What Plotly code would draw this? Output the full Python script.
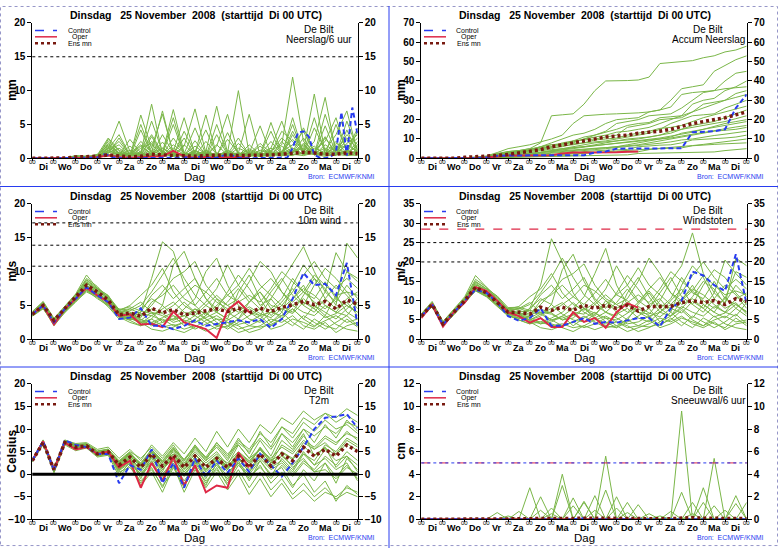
import plotly.graph_objects as go

W, H = 778, 554

# tijdas in uren vanaf starttijd (Di 25 nov 2008 00 UTC)
uren = list(range(0, 361, 12))
uren6 = list(range(0, 361, 6))
uren_oper = list(range(0, 241, 12))
dag_grenzen = list(range(0, 361, 24))
dag_midden = list(range(12, 360, 24))
dagnamen = ["Di", "Wo", "Do", "Vr", "Za", "Zo", "Ma", "Di", "Wo", "Do", "Vr", "Za", "Zo", "Ma", "Di"]

# ---- Neerslag per 6 uur (mm) ----
neerslag_leden = [
    [0,0,0,0,0.3,0.2,0.5,3.0,1.2,0.4,0.8,2.5,1.0,0.3,0.5,1.8,0.6,0.2,0.4,1.5,0.8,0.3,1.2,2.0,12.0,2.5,0.8,1.5,0.6,2.0,1.0],
    [0,0,0,0,0.2,0.1,0.3,1.5,5.5,1.0,0.5,1.2,0.4,2.0,0.8,0.3,1.0,7.7,0.8,0.5,1.4,0.6,0.3,1.0,2.8,1.2,9.5,0.8,1.5,3.0,1.5],
    [0,0,0,0,0.1,0.3,0.2,2.2,0.6,0.2,6.4,1.5,0.6,0.4,1.8,7.3,0.8,0.3,0.6,0.4,2.0,0.5,5.3,0.8,1.2,0.6,2.5,9.0,0.8,1.0,4.5],
    [0,0,0,0,0.3,0.2,0.4,1.0,2.5,0.5,0.8,8.0,0.6,0.5,0.3,1.2,0.4,1.8,6.5,0.6,0.3,0.8,1.5,5.5,0.8,2.2,0.5,1.2,3.5,7.0,0.8],
    [0,0,0,0,0.2,0.1,0.2,2.8,1.0,0.3,1.5,2.2,0.8,7.2,0.8,0.5,1.2,0.4,0.8,10.0,0.6,0.4,0.8,0.3,3.5,0.8,1.8,0.5,2.2,1.5,3.0],
    [0,0,0,0,0.4,0.2,0.6,1.8,0.8,0.6,2.0,0.5,3.5,0.8,0.4,2.6,0.5,0.3,1.2,0.5,0.8,4.8,0.6,1.0,2.0,4.0,0.7,0.5,1.8,0.6,2.5],
    [0,0,0,0,0.1,0.2,0.3,0.8,1.5,0.4,0.6,5.5,1.0,0.3,0.8,0.4,2.5,0.6,0.3,0.8,0.4,0.6,1.0,3.0,1.5,0.6,4.5,1.2,0.5,5.5,1.2],
    [0,0,0,0,0.2,0.3,0.2,1.2,0.5,2.8,0.8,0.4,1.5,0.5,4.0,0.8,6.4,0.5,0.8,0.3,1.0,0.5,2.5,0.6,0.4,1.8,0.6,3.0,0.8,2.8,0.5],
    [0,0,0,0,0.3,0.1,0.4,2.0,0.8,0.2,4.2,0.6,0.3,1.5,0.6,0.8,0.3,0.5,0.4,2.2,0.6,1.8,0.5,0.8,5.0,0.5,1.2,2.5,6.0,0.8,1.8],
    [0,0,0,0,0.1,0.0,0.2,0.6,0.3,0.8,0.4,3.2,0.6,5.0,0.4,0.3,0.5,0.8,0.3,0.5,0.3,0.4,0.6,0.8,1.5,0.6,0.8,0.5,1.2,0.5,0.8],
    [0,0,0,0,0.2,0.2,0.3,1.4,3.5,0.5,0.3,0.8,7.0,0.6,0.5,0.8,0.3,3.5,0.5,0.6,0.8,0.3,0.5,0.6,0.8,3.0,0.5,0.8,0.4,4.2,0.6],
    [0,0,0,0,0.1,0.1,0.2,0.5,0.8,0.3,0.5,0.4,0.6,0.3,2.0,0.5,0.4,0.6,0.5,0.4,0.6,0.8,0.3,2.5,0.6,0.4,0.8,0.6,0.5,0.8,0.4],
    [0,0,0,0,0.2,0.3,0.1,1.6,0.6,1.8,0.6,0.5,2.4,0.4,0.6,0.5,0.8,0.5,2.8,0.8,0.5,0.6,0.8,0.5,4.0,1.0,0.6,4.8,0.8,0.6,2.0],
    [0,0,0,0,0.1,0.2,0.2,0.4,0.5,0.6,0.3,0.6,0.5,0.8,0.5,0.6,0.3,0.4,0.6,0.3,0.5,0.3,0.5,0.4,0.5,0.8,0.5,0.3,0.6,0.4,0.5],
    [0,0,0,0,0.2,0.1,0.3,2.5,0.7,0.3,1.0,3.5,0.8,6.0,0.5,1.0,0.6,2.0,0.5,0.8,6.5,0.4,1.0,0.6,1.0,1.5,0.5,2.0,1.0,3.5,2.0],
    [0,0,0,0,0.3,0.2,0.2,1.2,2.0,0.4,5.0,0.8,1.5,0.6,3.0,0.5,1.0,0.4,3.8,0.6,0.4,1.2,0.8,4.0,2.5,0.8,6.0,0.7,0.6,2.2,3.5],
    [0,0,0,0,0.1,0.3,0.4,0.9,0.5,1.2,0.6,2.0,0.5,3.0,0.7,4.5,0.6,0.5,1.0,0.4,0.6,2.2,0.8,0.5,6.0,0.6,0.8,3.2,0.5,1.2,0.6],
    [0,0,0,0,0.2,0.1,0.5,1.6,0.4,0.8,0.5,1.6,6.5,0.8,0.4,1.2,0.3,5.0,0.6,0.8,0.5,0.3,1.5,0.6,0.8,4.5,0.9,0.6,5.0,1.0,0.8],
    [0,0,0,0,0.4,0.3,0.2,0.7,3.0,0.5,1.8,0.6,0.4,1.0,6.0,0.6,0.8,0.5,0.6,3.0,0.5,0.6,4.0,0.5,0.7,2.0,0.6,6.5,1.5,0.6,1.2],
    [0,0,0,0,0.1,0.2,0.3,1.1,0.6,0.4,2.5,1.0,0.6,0.8,0.5,0.9,4.2,0.6,0.4,0.5,1.2,0.5,0.6,1.8,0.5,0.7,1.5,0.8,2.5,0.7,4.0],
]
neerslag_control = [0,0,0,0,0,0,0,0,0,0,0,0,
                    0.1,0.6,0.5,0.1,
                    0,0,0,0,0,0,0,0,0,0,0,0.1,0.2,0,0,
                    0.3,0.1,0,0.1,0.3,0.6,0.4,0.1,0,0,0,0,0,0,0,0,0.1,1.5,3.8,4.0,
                    3.2,0.5,0.1,0,0.2,1.0,6.8,0.4,7.5,3.5]
neerslag_oper = [0,0,0,0,0.1,0.1,0.2,0.4,0.2,0.1,0.2,0.3,0.3,1.1,0.3,0.1,0.2,0.1,0.2,0.2,0.1]
neerslag_gem = [0,0,0,0.05,0.2,0.2,0.3,0.5,0.4,0.2,0.3,0.6,0.5,0.4,0.3,0.3,0.4,0.5,0.5,0.4,0.4,0.4,0.5,0.6,0.8,0.9,0.8,0.6,0.6,0.8,0.7]
neerslag_drempels = [15]

# ---- Geaccumuleerde neerslag (mm) ----
accum_leden = [
    [0,0,0,0,0.3,0.6,1.0,2.5,3.5,4.0,5.0,8.0,22.0,22.5,23.0,28.0,35.0,40.0,40.0,40.2,40.5,42.0,49.0,49.5,50.0,50.5,52.0,53.0,55.0,56.0,58.0],
    [0,0,0,0,0.2,0.4,0.8,1.5,2.5,3.0,4.5,6.0,8.0,10.0,12.0,13.0,15.0,18.0,20.0,20.5,21.0,24.0,25.0,30.0,36.0,37.0,38.0,45.0,48.0,51.0,53.0],
    [0,0,0,0,0.3,0.5,1.2,3.0,5.0,6.0,7.0,8.5,10.0,12.0,18.0,22.0,22.5,22.8,23.0,23.2,23.5,24.0,25.0,26.5,33.0,34.0,34.5,35.0,40.0,44.0,45.0],
    [0,0,0,0,0.2,0.4,0.6,2.0,3.0,3.5,4.0,5.0,6.0,7.0,9.0,11.0,12.0,13.5,15.0,17.0,18.0,18.5,21.0,21.5,22.0,28.0,30.0,31.0,35.0,37.0,40.0],
    [0,0,0,0,0.1,0.3,0.5,1.5,2.0,2.5,4.0,6.0,7.0,7.5,8.0,10.0,12.0,14.0,18.0,19.0,20.0,22.0,22.5,23.0,26.0,30.0,34.0,35.0,36.0,36.5,37.0],
    [0,0,0,0,0.2,0.3,0.8,2.0,3.5,4.0,5.0,5.5,6.0,8.0,9.0,9.5,10.0,11.0,12.0,16.0,17.0,18.0,20.0,20.5,21.0,24.0,28.0,29.0,30.0,33.5,35.0],
    [0,0,0,0,0.3,0.5,0.7,1.8,3.0,3.5,4.0,5.0,5.5,6.0,7.5,8.0,8.5,9.0,10.0,11.0,12.0,13.0,15.0,18.0,20.0,22.0,22.5,23.0,26.0,28.0,30.0],
    [0,0,0,0,0.2,0.4,0.6,1.2,2.0,2.5,3.0,4.0,4.5,5.0,5.5,6.0,7.0,8.0,9.0,10.0,10.5,11.0,12.0,13.0,15.0,17.0,18.0,19.0,21.0,23.0,25.0],
    [0,0,0,0,0.1,0.2,0.4,1.0,1.5,2.0,2.5,3.0,4.0,5.0,6.0,7.0,8.0,8.5,9.0,9.5,10.0,11.0,12.0,14.0,15.0,16.0,17.0,18.0,19.0,20.5,22.0],
    [0,0,0,0,0.2,0.3,0.5,0.8,1.2,1.5,2.0,2.5,3.0,3.5,4.0,4.5,5.0,5.5,6.0,7.0,8.0,9.0,10.0,11.0,13.0,14.0,15.0,16.0,17.0,18.0,19.0],
    [0,0,0,0,0.1,0.2,0.3,0.6,1.0,1.5,2.0,3.0,3.5,4.0,4.5,5.0,5.2,5.5,6.0,6.5,7.0,8.0,9.0,10.0,11.0,12.0,13.0,14.0,14.5,15.0,16.0],
    [0,0,0,0,0.1,0.2,0.3,0.5,0.8,1.0,1.2,1.5,2.0,2.2,2.4,3.5,4.0,4.2,4.4,4.6,6.0,6.5,6.8,7.0,8.0,9.5,9.8,10.0,10.5,11.0,12.0],
    [0,0,0,0,0.1,0.2,0.3,0.4,0.6,0.8,1.0,1.2,1.3,1.4,1.5,2.8,3.0,3.1,3.2,3.3,3.4,4.5,5.0,5.2,5.4,6.5,7.0,7.2,7.5,7.8,8.0],
    [0,0,0,0,0.1,0.1,0.2,0.3,0.5,0.6,0.8,0.9,1.0,1.1,1.2,1.3,1.4,1.5,1.6,1.8,2.5,2.6,2.7,2.8,3.0,3.1,3.2,3.3,4.0,4.6,5.0],
    [0,0,0,0,0.2,0.5,0.9,2.2,3.2,3.8,4.5,6.0,7.0,7.5,8.5,10.0,11.0,12.0,13.5,14.0,15.0,16.0,18.0,20.0,22.0,24.0,26.0,28.0,30.0,31.5,33.0],
    [0,0,0,0,0.3,0.4,0.7,1.6,2.5,3.0,3.5,4.5,5.0,6.5,7.0,8.0,9.5,10.0,10.5,12.0,13.0,14.0,15.5,16.0,17.0,19.0,21.0,22.5,24.0,25.5,27.0],
    [0,0,0,0,0.1,0.2,0.4,0.8,1.4,1.8,2.3,3.0,3.6,4.2,5.0,5.8,6.5,7.2,7.8,8.5,9.0,9.8,10.5,11.5,12.5,13.5,15.0,16.5,18.0,19.0,20.0],
    [0,0,0,0,0.2,0.3,0.6,1.0,1.6,2.0,2.6,3.2,3.8,4.5,5.5,6.0,6.5,7.0,7.5,8.0,8.8,9.5,10.0,10.5,11.5,12.5,13.5,14.5,15.5,16.2,17.0],
    [0,0,0,0,0.1,0.2,0.3,0.7,1.0,1.3,1.8,2.2,2.6,3.0,3.5,4.0,4.5,5.0,5.5,6.0,6.5,7.0,7.8,8.5,9.5,10.0,11.0,11.8,12.5,13.2,14.0],
    [0,0,0,0,0.1,0.1,0.2,0.4,0.6,0.9,1.2,1.5,1.8,2.0,2.3,2.6,3.0,3.3,3.6,4.0,4.3,4.8,5.2,5.6,6.0,6.6,7.2,7.8,8.5,9.2,10.0],
]
accum_control = [0,0,0,0,0.1,0.2,0.4,1.3,1.5,1.5,1.5,1.5,1.5,1.5,1.5,1.6,3.0,3.5,5.0,5.0,5.0,5.0,5.1,5.1,5.2,13.5,13.6,14.0,15.0,26.0,33.0]
accum_oper = [0,0,0,0,0.1,0.2,0.4,1.0,1.5,1.5,1.5,1.5,1.6,2.5,3.0,3.0,3.0,3.1,3.2,3.4,3.5]
accum_gem = [0,0,0,0,0.5,0.7,1.0,1.5,2.0,2.8,3.5,4.5,6.0,7.0,8.0,9.0,10.0,11.0,11.5,12.0,13.0,13.5,14.0,15.0,16.5,18.0,19.0,20.0,21.0,22.5,24.0]

# ---- 10m wind (m/s) ----
wind_leden = [
    [3.5,4.8,2.2,4.2,5.8,7.5,6.8,5.2,3.2,3.0,4.0,9.0,14.4,13.0,8.0,5.0,3.5,6.0,4.0,3.0,5.5,7.0,4.5,3.0,6.0,8.0,5.0,3.5,6.5,4.0,3.0],
    [4.0,5.5,3.0,4.8,6.5,8.5,7.2,6.0,4.0,3.5,2.5,3.0,5.0,11.0,13.0,9.0,6.0,4.0,3.0,7.0,9.5,6.0,3.5,5.0,4.0,6.5,9.0,7.5,5.0,14.2,12.0],
    [3.8,5.2,2.5,4.6,6.0,7.8,6.5,5.5,3.8,4.5,5.5,4.0,2.5,3.0,4.5,6.0,10.0,12.0,8.0,5.0,4.0,3.5,6.0,8.5,11.0,13.7,10.0,7.0,5.5,8.0,6.0],
    [3.6,4.6,2.0,4.0,5.5,7.2,6.0,5.0,3.4,2.8,2.0,2.5,1.8,2.2,1.5,2.0,1.2,1.8,2.5,1.5,2.0,2.8,1.5,2.0,3.0,2.5,1.8,3.5,2.2,1.5,1.2],
    [3.9,5.0,2.7,4.4,6.3,8.2,7.5,6.2,4.2,5.0,6.5,8.0,10.5,7.0,5.0,4.0,5.5,7.5,11.0,8.0,6.0,4.5,7.0,9.0,6.5,5.0,8.0,10.5,9.0,7.0,5.0],
    [3.7,5.3,2.9,4.7,6.6,9.0,7.8,6.0,3.5,3.0,2.8,4.0,3.5,2.5,3.0,4.5,3.0,2.0,3.5,4.5,3.0,2.5,4.0,5.5,7.5,5.0,4.0,6.0,4.5,5.5,3.5],
    [3.4,4.5,2.3,4.0,5.6,7.0,6.2,4.8,3.0,3.2,2.5,1.5,1.2,1.8,2.5,1.5,2.2,3.0,2.0,1.0,1.5,2.0,3.0,2.5,3.5,2.0,1.5,2.5,1.0,2.0,2.5],
    [3.8,5.1,2.6,4.5,6.2,8.0,7.0,5.5,4.5,4.0,3.5,5.0,7.0,9.0,10.0,11.5,8.0,6.0,5.0,6.0,8.5,11.5,10.0,7.0,5.0,6.0,4.5,7.0,12.8,10.0,8.5],
    [3.6,4.9,2.4,4.3,5.9,7.6,6.8,5.8,3.8,3.5,3.0,2.0,2.5,3.5,2.0,3.0,4.0,2.5,1.5,2.5,3.5,4.5,2.5,3.5,4.5,3.0,5.0,4.0,3.0,4.5,6.0],
    [4.1,5.6,3.1,4.9,6.7,9.5,7.5,6.5,4.0,3.8,4.0,6.5,8.0,6.0,7.5,9.0,6.0,4.5,7.0,9.5,7.5,5.0,6.0,4.0,8.0,11.0,9.0,6.0,8.0,6.5,4.5],
    [3.5,4.7,2.1,4.1,5.7,7.3,6.4,5.0,3.3,2.5,2.0,3.0,2.0,1.5,1.0,1.8,2.8,3.5,2.5,2.0,1.0,1.5,2.5,4.0,2.5,1.5,3.0,2.0,1.5,3.0,1.8],
    [3.9,5.2,2.8,4.6,6.4,8.4,7.2,6.3,4.3,4.5,3.8,3.5,4.5,5.5,4.0,3.5,5.0,6.5,5.0,4.0,5.5,7.0,5.0,4.5,6.0,7.5,6.5,5.0,4.0,6.0,7.0],
    [3.7,5.0,2.6,4.4,6.1,7.9,6.9,5.6,3.7,3.3,2.8,2.5,3.2,4.0,5.5,4.0,3.0,2.0,1.8,3.0,4.5,3.5,2.0,3.0,2.0,3.5,2.5,1.5,2.5,3.5,2.0],
    [3.6,4.8,2.5,4.3,6.0,7.7,6.7,5.4,3.6,3.0,4.5,6.0,5.0,3.5,2.8,2.5,3.5,5.0,6.5,5.5,4.0,3.0,4.5,6.0,9.0,7.0,6.0,8.5,6.0,10.0,9.0],
    [3.7,5.1,2.7,4.6,6.3,8.3,7.1,5.9,3.9,3.6,3.2,5.5,6.5,8.0,6.0,5.0,7.0,9.0,6.5,8.0,10.5,8.0,6.5,5.0,7.0,9.5,11.5,9.0,7.5,9.0,7.5],
    [3.5,4.7,2.4,4.2,5.8,7.4,6.6,5.3,3.5,3.4,2.6,2.2,3.0,2.0,2.5,3.5,2.5,1.5,2.0,3.0,2.0,1.8,2.2,3.0,4.5,3.0,2.0,2.8,3.5,2.5,3.0],
    [3.8,5.2,2.9,4.7,6.5,8.7,7.4,6.1,4.1,4.2,5.0,7.0,9.5,12.0,9.0,6.5,5.0,4.0,5.5,7.5,5.5,7.5,9.0,7.0,5.5,7.0,5.5,4.5,6.0,5.0,4.0],
    [3.6,4.9,2.6,4.4,6.1,7.9,6.8,5.6,3.6,3.1,2.4,3.5,2.8,3.0,3.5,2.5,3.2,4.0,3.0,2.2,2.6,3.5,4.0,3.5,5.0,4.0,3.5,5.0,4.0,3.5,5.5],
    [3.9,5.3,3.0,4.8,6.6,8.8,7.6,6.4,4.4,4.8,4.2,3.8,4.0,5.0,6.5,8.0,7.0,5.5,4.5,5.5,6.5,5.5,7.5,10.0,8.5,7.0,9.5,8.0,6.5,7.0,6.5],
    [3.5,4.6,2.3,4.1,5.7,7.2,6.3,5.1,3.3,2.9,3.5,4.5,3.8,2.8,3.5,4.5,3.8,3.0,2.8,3.8,4.8,3.8,3.2,4.5,3.8,5.5,4.5,3.2,3.8,5.0,4.0],
]
wind_control = [3.7,5.0,2.5,4.5,6.0,7.7,6.5,5.5,3.0,3.2,4.6,2.0,2.0,1.5,2.0,2.8,2.0,2.3,2.5,2.8,2.5,3.0,1.7,3.0,6.0,9.8,8.0,8.2,6.5,11.3,2.0]
wind_oper = [3.7,5.0,2.2,4.5,6.0,7.6,6.5,5.5,3.5,3.7,2.2,2.3,1.8,4.1,2.5,2.0,1.5,0.2,4.3,5.6,4.0]
wind_gem = [3.7,5.0,2.8,4.5,6.2,8.0,7.0,5.8,3.6,3.9,3.4,4.6,3.9,4.4,3.6,3.9,4.2,4.5,4.1,4.6,3.9,4.6,4.1,4.7,5.1,5.6,5.1,5.6,4.5,5.8,5.2]
wind_drempels = [10.8, 13.9, 17.2]

# ---- Windstoten (m/s) ----
stoten_leden = [
    [5.5,8.5,3.5,6.5,9.5,13.0,11.5,9.0,6.5,6.0,8.0,14.0,26.0,20.0,12.0,8.0,6.0,10.0,7.0,5.0,9.0,12.0,8.0,6.0,10.0,14.0,9.0,7.0,11.0,8.0,6.0],
    [6.5,9.5,4.5,7.5,10.5,14.5,12.5,10.0,7.5,6.5,5.0,6.0,9.0,18.0,22.0,15.0,10.0,7.0,6.0,12.0,16.0,11.0,7.0,9.0,8.0,11.0,15.0,13.0,9.0,21.0,19.0],
    [6.0,9.2,4.2,7.2,10.2,13.8,12.0,9.8,7.2,8.0,9.5,7.0,5.0,6.0,8.0,11.0,17.0,23.5,14.0,9.0,7.0,6.5,10.0,15.0,19.0,27.5,17.0,12.0,9.5,14.0,11.0],
    [5.8,8.7,3.7,6.8,9.7,12.8,11.2,8.8,6.2,5.0,4.0,4.5,3.5,4.0,3.0,3.5,2.5,3.5,4.5,3.0,3.5,5.0,3.0,4.0,5.5,4.5,3.5,6.0,4.0,3.0,2.5],
    [6.2,9.1,4.1,7.1,10.3,14.0,13.0,10.5,7.8,8.5,11.0,13.0,17.0,12.0,9.0,7.5,9.5,13.0,19.0,14.0,10.0,8.0,12.0,16.0,11.0,9.0,14.0,18.0,16.0,12.0,9.0],
    [6.1,9.3,4.3,7.3,10.6,15.5,13.5,10.3,7.0,6.0,5.5,7.0,6.5,5.0,5.5,8.0,5.5,4.0,6.5,8.0,5.5,4.5,7.0,10.0,13.0,9.0,7.0,10.5,8.0,9.5,6.5],
    [5.6,8.4,3.6,6.6,9.4,12.5,11.0,8.5,6.0,5.5,4.5,3.0,2.5,3.5,4.5,3.0,4.0,5.5,3.5,2.0,3.0,4.0,5.5,4.5,6.0,4.0,3.0,4.5,2.5,4.0,4.5],
    [6.2,9.0,4.0,7.0,10.0,13.5,12.2,9.5,8.0,7.5,6.5,9.0,12.0,15.5,17.0,19.5,14.0,10.5,9.0,10.5,15.0,21.0,17.0,12.0,9.0,10.5,8.0,12.0,20.5,17.0,14.0],
    [5.9,8.8,3.9,6.9,9.8,13.2,11.8,9.6,7.0,6.5,5.8,4.0,4.5,6.0,3.5,5.5,7.0,4.5,3.0,4.5,6.0,8.0,4.5,6.0,8.0,5.5,9.0,7.0,5.5,8.0,10.5],
    [6.6,9.8,4.6,7.8,11.0,16.5,13.5,11.0,7.5,7.0,7.5,11.5,14.0,10.5,13.0,16.0,10.5,8.0,12.0,16.5,13.0,9.0,10.5,7.0,14.0,19.0,16.0,10.5,14.0,11.5,8.0],
    [5.7,8.6,3.4,6.4,9.3,12.6,11.3,8.7,6.3,5.0,4.0,5.5,4.0,3.0,2.0,3.5,5.0,6.0,4.5,3.5,2.0,3.0,4.5,7.0,4.5,3.0,5.5,4.0,3.0,5.5,3.5],
    [6.3,9.4,4.4,7.4,10.4,14.2,12.6,10.2,7.6,8.0,7.0,6.5,8.0,9.5,7.0,6.5,9.0,11.5,9.0,7.0,9.5,12.5,9.0,8.0,10.5,13.0,11.5,9.0,7.0,10.5,12.0],
    [6.0,8.9,4.0,7.0,9.9,13.4,11.9,9.4,6.8,6.0,5.0,4.5,5.5,7.0,9.5,7.0,5.5,3.5,3.0,5.5,8.0,6.0,3.5,5.5,3.5,6.0,4.5,3.0,4.5,6.5,4.0],
    [5.9,8.8,3.8,6.9,9.9,13.3,12.0,9.3,6.6,5.5,8.0,10.5,9.0,6.5,5.0,4.5,6.5,9.0,11.5,10.0,7.0,5.5,8.0,10.5,16.0,12.0,10.5,15.0,10.5,17.5,16.0],
    [6.0,9.1,4.2,7.1,10.1,13.6,12.1,9.7,7.3,6.8,6.2,10.0,11.5,14.0,11.0,9.0,12.0,15.5,11.5,14.0,18.5,14.0,11.5,9.0,12.0,16.5,20.0,16.0,13.0,15.5,13.0],
    [5.8,8.6,3.7,6.7,9.6,12.9,11.4,9.0,6.4,6.0,4.8,4.0,5.0,3.5,4.5,6.0,4.5,3.0,3.5,5.0,3.5,3.2,4.0,5.0,7.5,5.0,3.5,5.0,6.0,4.5,5.0],
    [6.2,9.3,4.4,7.4,10.5,14.8,13.0,10.8,7.9,7.8,9.0,12.0,16.0,21.0,16.0,11.5,9.0,7.0,9.5,13.0,9.5,13.0,16.0,12.0,10.0,12.5,10.0,8.0,10.5,9.0,7.0],
    [5.9,8.8,3.9,6.9,9.9,13.3,11.9,9.5,6.8,6.2,5.0,6.5,5.0,5.5,6.5,4.5,5.5,7.0,5.5,4.0,4.5,6.0,7.0,6.0,8.5,7.0,6.0,8.5,7.0,6.0,9.5],
    [6.3,9.5,4.5,7.5,10.7,15.0,13.2,11.2,8.2,8.3,7.5,6.8,7.0,9.0,11.0,14.0,12.5,10.0,8.0,9.5,11.5,9.5,13.0,17.5,15.0,12.5,16.5,14.0,11.5,12.5,11.5],
    [5.7,8.5,3.5,6.5,9.4,12.7,11.1,8.9,6.1,5.4,6.0,7.8,6.8,5.0,6.2,8.0,6.8,5.5,5.0,6.8,8.5,6.8,5.8,8.0,6.8,9.8,8.0,5.8,6.8,9.0,7.2],
]
stoten_control = [6.0,9.0,3.8,7.0,10.0,12.8,12.0,9.5,6.0,4.8,5.5,8.0,3.5,3.5,4.5,5.5,4.0,4.5,4.3,5.0,5.5,5.5,3.3,8.0,10.0,17.5,16.5,14.0,12.5,22.0,9.0]
stoten_oper = [5.5,9.0,3.3,7.0,9.5,13.5,12.5,10.0,7.0,6.0,4.3,5.5,3.2,3.2,7.0,4.5,5.5,3.0,7.0,9.3,8.2]
stoten_gem = [6.0,9.0,4.0,7.0,10.0,13.5,12.0,9.5,7.0,7.0,6.5,8.3,7.5,8.3,7.5,8.8,8.0,8.8,8.0,8.8,7.3,8.5,8.5,8.5,9.5,10.0,9.5,10.0,9.0,10.5,9.8]
stoten_drempels = [20, 25]
stoten_alarm = [28.5]

# ---- Temperatuur 2m (Celsius) ----
t2m_leden = [
    [3.2,7.5,1.2,7.2,6.2,6.5,4.8,5.2,2.2,4.0,1.8,4.8,2.0,4.5,1.8,4.3,1.8,3.8,1.8,4.2,1.8,4.8,2.0,4.8,3.2,6.2,4.2,5.8,4.2,6.8,5.2],
    [2.8,6.8,0.5,6.8,5.8,6.0,4.0,4.5,1.0,3.0,0.0,3.0,-1.0,2.5,-1.5,2.0,-2.0,1.5,-2.5,1.0,-3.0,0.5,-3.5,-1.0,-4.5,-2.0,-5.0,-3.0,-5.5,-4.0,-5.0],
    [3.1,7.2,1.5,7.5,6.8,7.0,5.5,6.0,3.5,5.5,3.0,6.5,4.0,7.0,4.5,8.0,5.0,9.5,6.0,10.0,7.0,11.0,9.0,12.5,11.0,14.0,12.0,13.5,12.5,14.5,13.0],
    [2.9,6.9,0.8,7.0,5.5,6.2,4.2,4.8,1.5,3.5,-1.0,4.0,0.5,5.5,2.0,6.0,3.0,5.0,2.0,6.5,3.5,7.5,4.0,9.0,6.0,10.0,7.0,11.0,8.0,12.0,9.5],
    [3.0,7.1,1.1,7.1,6.1,6.4,4.6,4.9,0.0,2.5,-2.0,1.5,-3.0,2.0,-4.0,1.0,-2.5,2.5,-1.5,3.0,-1.0,2.0,-2.0,0.5,-3.0,1.0,-1.5,2.5,-2.0,3.5,1.0],
    [3.3,7.6,1.3,7.6,6.6,6.7,5.0,5.6,2.5,4.5,2.5,5.5,3.0,6.0,2.5,5.5,3.0,7.0,4.0,8.0,4.5,9.5,6.0,10.5,8.0,11.5,9.5,12.0,10.0,11.0,9.0],
    [2.7,6.6,0.3,6.5,5.2,5.8,3.8,4.2,-0.5,2.0,-2.5,0.5,-4.0,1.5,-3.0,2.5,-1.0,3.5,0.5,2.5,-1.5,3.0,0.0,1.5,-2.5,0.0,-4.0,-1.5,-6.0,-2.5,-4.5],
    [3.0,7.0,0.9,7.0,6.0,6.3,4.5,5.0,2.0,3.8,1.0,4.0,1.5,4.5,1.0,3.5,0.5,3.0,1.0,4.5,2.5,5.5,3.5,6.0,4.5,7.5,6.0,8.5,7.0,9.0,8.0],
    [3.1,7.3,1.0,7.3,6.3,6.5,4.7,5.3,2.8,4.8,2.0,5.5,2.5,5.0,2.0,5.0,2.5,4.5,1.5,3.5,0.5,3.5,1.0,2.5,0.0,3.0,1.0,4.0,2.0,5.0,3.0],
    [2.9,6.8,0.7,6.9,5.8,6.1,4.3,4.7,1.2,3.2,0.5,3.5,0.0,3.0,-0.5,3.0,0.0,2.5,-0.5,3.5,0.5,4.0,1.5,3.0,0.5,4.5,2.0,5.5,3.0,4.0,2.0],
    [3.2,7.4,1.4,7.4,6.5,6.8,5.2,5.5,3.0,5.0,3.5,6.0,3.5,6.5,3.0,6.5,3.5,6.0,3.0,7.0,5.0,8.0,5.5,9.0,7.0,10.0,8.5,10.5,9.0,11.5,10.5],
    [2.8,6.7,0.6,6.7,5.6,5.9,4.1,4.4,0.5,1.5,-1.5,1.0,-2.5,0.5,-2.0,1.5,-1.5,1.0,-2.0,2.0,-0.5,1.5,-1.0,2.0,-0.5,2.5,0.5,1.0,-1.0,1.5,0.0],
    [3.0,7.0,1.0,7.1,6.1,6.3,4.6,5.1,2.3,4.3,1.5,5.0,2.0,4.5,1.5,4.5,2.0,4.0,2.5,5.0,3.0,5.5,2.5,6.5,5.0,8.5,5.5,7.0,4.5,7.5,6.0],
    [3.1,7.2,1.2,7.2,6.3,6.4,4.9,5.4,2.6,4.6,1.8,4.6,1.0,3.8,0.5,3.0,1.0,4.0,1.0,4.5,2.0,6.0,3.0,7.5,5.5,9.0,4.0,6.0,1.5,4.0,0.5],
    [3.0,7.1,0.9,7.0,6.0,6.2,4.4,4.9,1.8,3.6,1.2,4.2,1.5,4.0,1.2,3.8,1.2,3.3,1.2,3.8,1.0,4.2,1.5,5.0,3.5,7.0,5.5,8.0,6.5,9.5,7.5],
    [2.9,7.0,0.8,6.9,5.9,6.2,4.4,4.8,1.0,2.8,-0.5,2.5,-1.5,2.0,-2.5,1.5,-3.0,0.5,-3.5,0.0,-4.5,-1.0,-5.0,-2.0,-5.5,-3.5,-6.0,-4.0,-5.0,-3.0,-4.0],
    [3.1,7.2,1.2,7.3,6.4,6.5,4.8,5.4,2.5,4.5,2.0,5.0,2.5,5.5,3.0,6.0,3.5,6.5,3.5,7.5,5.5,9.0,7.0,10.5,9.0,12.5,11.0,13.5,11.5,13.0,11.5],
    [3.0,7.0,1.0,7.0,6.0,6.3,4.5,5.0,1.8,3.5,1.0,3.8,1.0,3.5,0.5,3.2,0.8,3.8,1.5,4.8,2.8,5.8,3.0,4.5,1.5,3.5,0.5,2.5,-0.5,2.0,-1.0],
    [3.2,7.4,1.3,7.4,6.4,6.6,5.0,5.5,2.8,4.8,2.3,5.3,2.8,5.8,3.3,6.3,3.8,7.0,4.5,6.5,3.5,5.5,2.5,4.0,2.0,4.5,3.0,6.5,5.0,8.0,6.5],
    [2.8,6.9,0.7,6.8,5.7,6.0,4.2,4.6,0.8,2.5,0.0,2.8,-0.5,3.0,0.0,2.8,-0.5,2.0,-1.0,2.5,0.0,3.0,-0.5,3.5,1.0,5.0,2.0,3.5,1.0,2.5,-1.5],
]
t2m_control = [3.0,7.3,0.8,7.5,6.5,6.0,4.5,4.5,-2.0,2.0,1.0,5.5,-2.0,2.5,-3.0,3.5,-0.5,3.0,0.3,3.5,0.5,4.5,2.0,-0.5,2.5,6.0,10.0,12.5,12.8,13.3,10.2]
t2m_oper = [3.0,7.3,1.0,7.0,5.5,6.0,4.5,5.0,1.5,3.0,-3.0,2.5,-1.5,3.8,-2.5,2.0,-4.0,-2.5,-3.0,4.8,1.5]
t2m_gem = [3.0,7.0,1.0,7.0,6.0,6.3,4.5,5.0,2.0,3.8,1.5,4.5,1.8,4.2,1.5,4.0,1.5,3.5,1.5,4.0,1.5,4.5,1.8,4.5,3.0,6.0,4.0,5.5,4.0,6.5,5.0]
t2m_nullijn = [0]

# ---- Sneeuwval per 6 uur (cm) ----
sneeuw_leden = [
    [0,0,0,0,0,0,0,0.6,0,0,0,0,0,0,0,0,0,0,0,0,0,0,0,0,9.6,0,0,0,0,0,0],
    [0,0,0,0,0,0,0,0,0,0,2.8,0,0,0,0,0,0,5.6,0,0,0,0,0,0,0,0,0,1.2,0,0,0],
    [0,0,0,0,0,0,0,0,0,0,0,0,0,4.0,0,0,0,0,0,0,1.3,0,0,0,0,0,2.8,0,0,0,0],
    [0,0,0,0,0,0,0,0,0,0,0,2.0,0,0,1.9,0,0,0,0,0,0,0,0,0,0,0,0,5.4,0,0,0],
    [0,0,0,0,0,0,0,0,0,0.7,0,0,0,0,0,1.6,0,0,0,0,0,0,0,0,2.4,0,0,0,0,2.1,0],
    [0,0,0,0,0,0,0,0,0,0,0,0,0,3.0,0,0,0,0,2.0,0,0,0,0,0,0,0,0,0,0,0,1.5],
    [0,0,0,0,0,0,0,0,0,0,0,0,0,0,0,0,2.1,0,0,1.5,0,0,0,0,0,1.5,0,0,0,0,0],
    [0,0,0,0,0,0,0,0,0,0,0,0,1.0,0,0,0,0,2.6,0,0,0,0,0,0,0,0,0,0,0.8,0,0],
    [0,0,0,0,0,0,0,0,0,0,0,0.8,0,0,0,1.5,0,0,0,0,0,0.5,0,0,0,0,0,0,0,0,0],
    [0,0,0,0,0,0,0,0,0,0,0,0,0,0,1.2,0,0,0,1.0,0,0,0,0,0.7,0,0,0,0,0,0,0],
    [0,0,0,0,0,0,0,0,0,0,0,0,0,0,0,0,0.8,0,0,0,0,0,0,0,0,0,1.5,0,0,0,0],
    [0,0,0,0,0,0,0,0,0,0,0,0,0.5,0,0,0,0,0,0,0.6,0,0,0,0,0,0,0,0,0,0,0],
    [0,0,0,0,0,0,0,0,0.3,0,0,0,0,0,0,0,0,0,0,0,0,0,0,0,0,0.5,0,0,0,0,0],
    [0,0,0,0,0,0,0,0,0,0,0,0,0,0,0,0,0,0,0,0,0,0,0.3,0,0,0,0,0,0,1.4,0],
]
sneeuw_control = [0,0,0,0,0,0,0,0,0,0,0,0,0,0,0,0.1,0,0,0,0,0,0,0,0,0,0,0,0,0,0,0]
sneeuw_oper = [0,0,0,0,0,0,0,0,0,0,0,0,0,0,0,0,0,0,0,0,0]
sneeuw_gem = [0,0,0,0,0,0,0,0.02,0.02,0.03,0.05,0.08,0.06,0.1,0.08,0.1,0.12,0.1,0.08,0.06,0.05,0.03,0.05,0.06,0.1,0.15,0.1,0.08,0.1,0.08,0.06]
sneeuw_drempels = [5]

TITEL = "Dinsdag   25 November  2008  (starttijd  Di 00 UTC)"
FONT = "Liberation Sans, Arial, sans-serif"
GROEN = "rgb(122,182,72)"
BLAUW = "rgb(40,60,240)"
ROOD = "rgb(222,40,70)"
BRUIN = "rgb(120,26,16)"

panelen = [
    dict(leden=neerslag_leden, control=neerslag_control, cx=uren6, oper=neerslag_oper, gem=neerslag_gem,
         bereik=[0, 20], stap=5, eenheid="mm", naam="Neerslag/6 uur",
         lijnen=[(v, "dot", "black", 1) for v in neerslag_drempels]),
    dict(leden=accum_leden, control=accum_control, cx=uren, oper=accum_oper, gem=accum_gem,
         bereik=[0, 70], stap=10, eenheid="mm", naam="Accum Neerslag", lijnen=[]),
    dict(leden=wind_leden, control=wind_control, cx=uren, oper=wind_oper, gem=wind_gem,
         bereik=[0, 20], stap=5, eenheid="m/s", naam="10m wind",
         lijnen=[(v, "dot", "black", 1) for v in wind_drempels]),
    dict(leden=stoten_leden, control=stoten_control, cx=uren, oper=stoten_oper, gem=stoten_gem,
         bereik=[0, 35], stap=5, eenheid="m/s", naam="Windstoten",
         lijnen=[(v, "dot", "black", 1) for v in stoten_drempels]
         + [(v, "dash", ROOD, 1.2) for v in stoten_alarm]),
    dict(leden=t2m_leden, control=t2m_control, cx=uren, oper=t2m_oper, gem=t2m_gem,
         bereik=[-10, 20], stap=5, eenheid="Celsius", naam="T2m",
         lijnen=[(v, "solid", "black", 3) for v in t2m_nullijn]),
    dict(leden=sneeuw_leden, control=sneeuw_control, cx=uren, oper=sneeuw_oper, gem=sneeuw_gem,
         bereik=[0, 12], stap=2, eenheid="cm", naam="Sneeuwval/6 uur",
         lijnen=[(v, "dash", ROOD, 1) for v in sneeuw_drempels]
         + [(v, "dot", BLAUW, 1) for v in sneeuw_drempels]),
]

COL_X0 = [0, 389]
ROW_Y0 = [0, 185, 369]


def fx(c, x):
    return (COL_X0[c] + x) / W


def fy(r, y):
    return 1 - (ROW_Y0[r] + y) / H


fig = go.Figure()
annotations = []
shapes = []

for p, pan in enumerate(panelen):
    r, c = p // 2, p % 2
    n = p + 1
    xa = "x" if n == 1 else f"x{n}"
    ya = "y" if n == 1 else f"y{n}"
    yb = f"y{n + 6}"

    for lid in pan["leden"]:
        fig.add_trace(go.Scatter(x=uren, y=lid, mode="lines", xaxis=xa, yaxis=ya,
                                 line=dict(color=GROEN, width=1), showlegend=False, hoverinfo="skip"))
    fig.add_trace(go.Scatter(x=uren_oper, y=pan["oper"], mode="lines", xaxis=xa, yaxis=yb,
                             line=dict(color=ROOD, width=2), showlegend=False))
    fig.add_trace(go.Scatter(x=pan["cx"], y=pan["control"], mode="lines", xaxis=xa, yaxis=yb,
                             line=dict(color=BLAUW, width=2, dash="5px,3px"), showlegend=False))
    fig.add_trace(go.Scatter(x=uren, y=pan["gem"], mode="lines", xaxis=xa, yaxis=yb,
                             line=dict(color=BRUIN, width=3.5, dash="3px,3px"), showlegend=False))

    xdom = [fx(c, 32.3), fx(c, 357.7)]
    ydom = [fy(r, 155.7), fy(r, 17.3)]
    yas = dict(range=pan["bereik"], dtick=pan["stap"], tick0=0, ticks="outside", ticklen=4,
               tickcolor="black", showline=True, linecolor="black", linewidth=1,
               showgrid=False, zeroline=False,
               tickfont=dict(family=FONT, size=10, color="black", weight="bold"))
    fig.layout["xaxis" if n == 1 else f"xaxis{n}"] = dict(
        domain=xdom, anchor=ya, range=[0, 360], tickmode="array", tickvals=dag_grenzen,
        ticks="outside", ticklen=2, tickcolor="black", showticklabels=False,
        showline=True, linecolor="black", linewidth=1, showgrid=False, zeroline=False)
    fig.layout["yaxis" if n == 1 else f"yaxis{n}"] = dict(domain=ydom, anchor=xa, **yas)
    fig.layout[f"yaxis{n + 6}"] = dict(overlaying=ya, anchor=xa, side="right", **yas)

    # drempellijnen
    for waarde, stijl, kleur, dikte in pan["lijnen"]:
        shapes.append(dict(type="line", xref=f"{xa} domain", yref=ya, x0=0, x1=1, y0=waarde, y1=waarde,
                           line=dict(color=kleur, width=dikte, dash=stijl), layer="above"))

    # "00" labels op de daggrenzen en dagnamen in het midden van elke dag
    for u in dag_grenzen:
        annotations.append(dict(x=u, xref=xa, y=fy(r, 159.3), text="00",
                                font=dict(family=FONT, size=6, color="black")))
    for u, naam in zip(dag_midden, dagnamen):
        annotations.append(dict(x=u, xref=xa, y=fy(r, 164.3), text=f"<b>{naam}</b>",
                                font=dict(family=FONT, size=9, color="black")))

    # teksten
    annotations += [
        dict(x=fx(c, 196), y=fy(r, 8.8), text=f"<b>{TITEL}</b>", font=dict(family=FONT, size=10.5, color="black")),
        dict(x=fx(c, 319), y=fy(r, 24), text="De Bilt", font=dict(family=FONT, size=10, color="black")),
        dict(x=fx(c, 319), y=fy(r, 34.5), text=pan["naam"], font=dict(family=FONT, size=10, color="black")),
        dict(x=fx(c, 195), y=fy(r, 174.5), text="Dag", font=dict(family=FONT, size=11.5, color="black")),
        dict(x=fx(c, 12), y=fy(r, 86.5), text=f"<b>{pan['eenheid']}</b>", textangle=-90,
             font=dict(family=FONT, size=12, color="black")),
        dict(x=fx(c, 341), y=fy(r, 174.5), text="Bron:  ECMWF/KNMI", font=dict(family=FONT, size=7, color=BLAUW)),
        dict(x=fx(c, 79), y=fy(r, 25.4), text="Control", font=dict(family=FONT, size=7, color="black")),
        dict(x=fx(c, 80), y=fy(r, 32.0), text="Oper", font=dict(family=FONT, size=7, color="black")),
        dict(x=fx(c, 80), y=fy(r, 38.8), text="Ens mn", font=dict(family=FONT, size=7, color="black")),
    ]
    for (yy, kleur, dikte, stijl) in [(25, BLAUW, 1.5, "dash"), (31.5, ROOD, 1.5, "solid"), (38, BRUIN, 2.5, "dot")]:
        shapes.append(dict(type="line", xref="paper", yref="paper", x0=fx(c, 35), x1=fx(c, 57),
                           y0=fy(r, yy), y1=fy(r, yy), line=dict(color=kleur, width=dikte, dash=stijl)))

for a in annotations:
    a.setdefault("xref", "paper")
    a.setdefault("yref", "paper")
    a.setdefault("showarrow", False)
    a.setdefault("xanchor", "center")
    a.setdefault("yanchor", "middle")

# paneelranden
shapes.append(dict(type="rect", xref="paper", yref="paper", x0=0.5 / W, x1=1 - 0.5 / W, y0=2.5 / H, y1=1 - 0.5 / H,
                   line=dict(color="rgb(150,150,200)", width=1, dash="dot")))
shapes.append(dict(type="line", xref="paper", yref="paper", x0=389 / W, x1=389 / W, y0=0, y1=1,
                   line=dict(color=BLAUW, width=1)))
for yy in [184.5, 369]:
    shapes.append(dict(type="line", xref="paper", yref="paper", x0=0, x1=1, y0=1 - yy / H, y1=1 - yy / H,
                       line=dict(color=BLAUW, width=1)))

fig.update_layout(width=W, height=H, margin=dict(l=0, r=0, t=0, b=0), paper_bgcolor="white",
                  plot_bgcolor="white", showlegend=False, annotations=annotations, shapes=shapes,
                  font=dict(family=FONT))

# body-marge van de browser weghalen zodat de figuur precies in het venster past
fig.write_html("out.html", config={"displayModeBar": False},
               post_script="document.body.style.margin='0';")
